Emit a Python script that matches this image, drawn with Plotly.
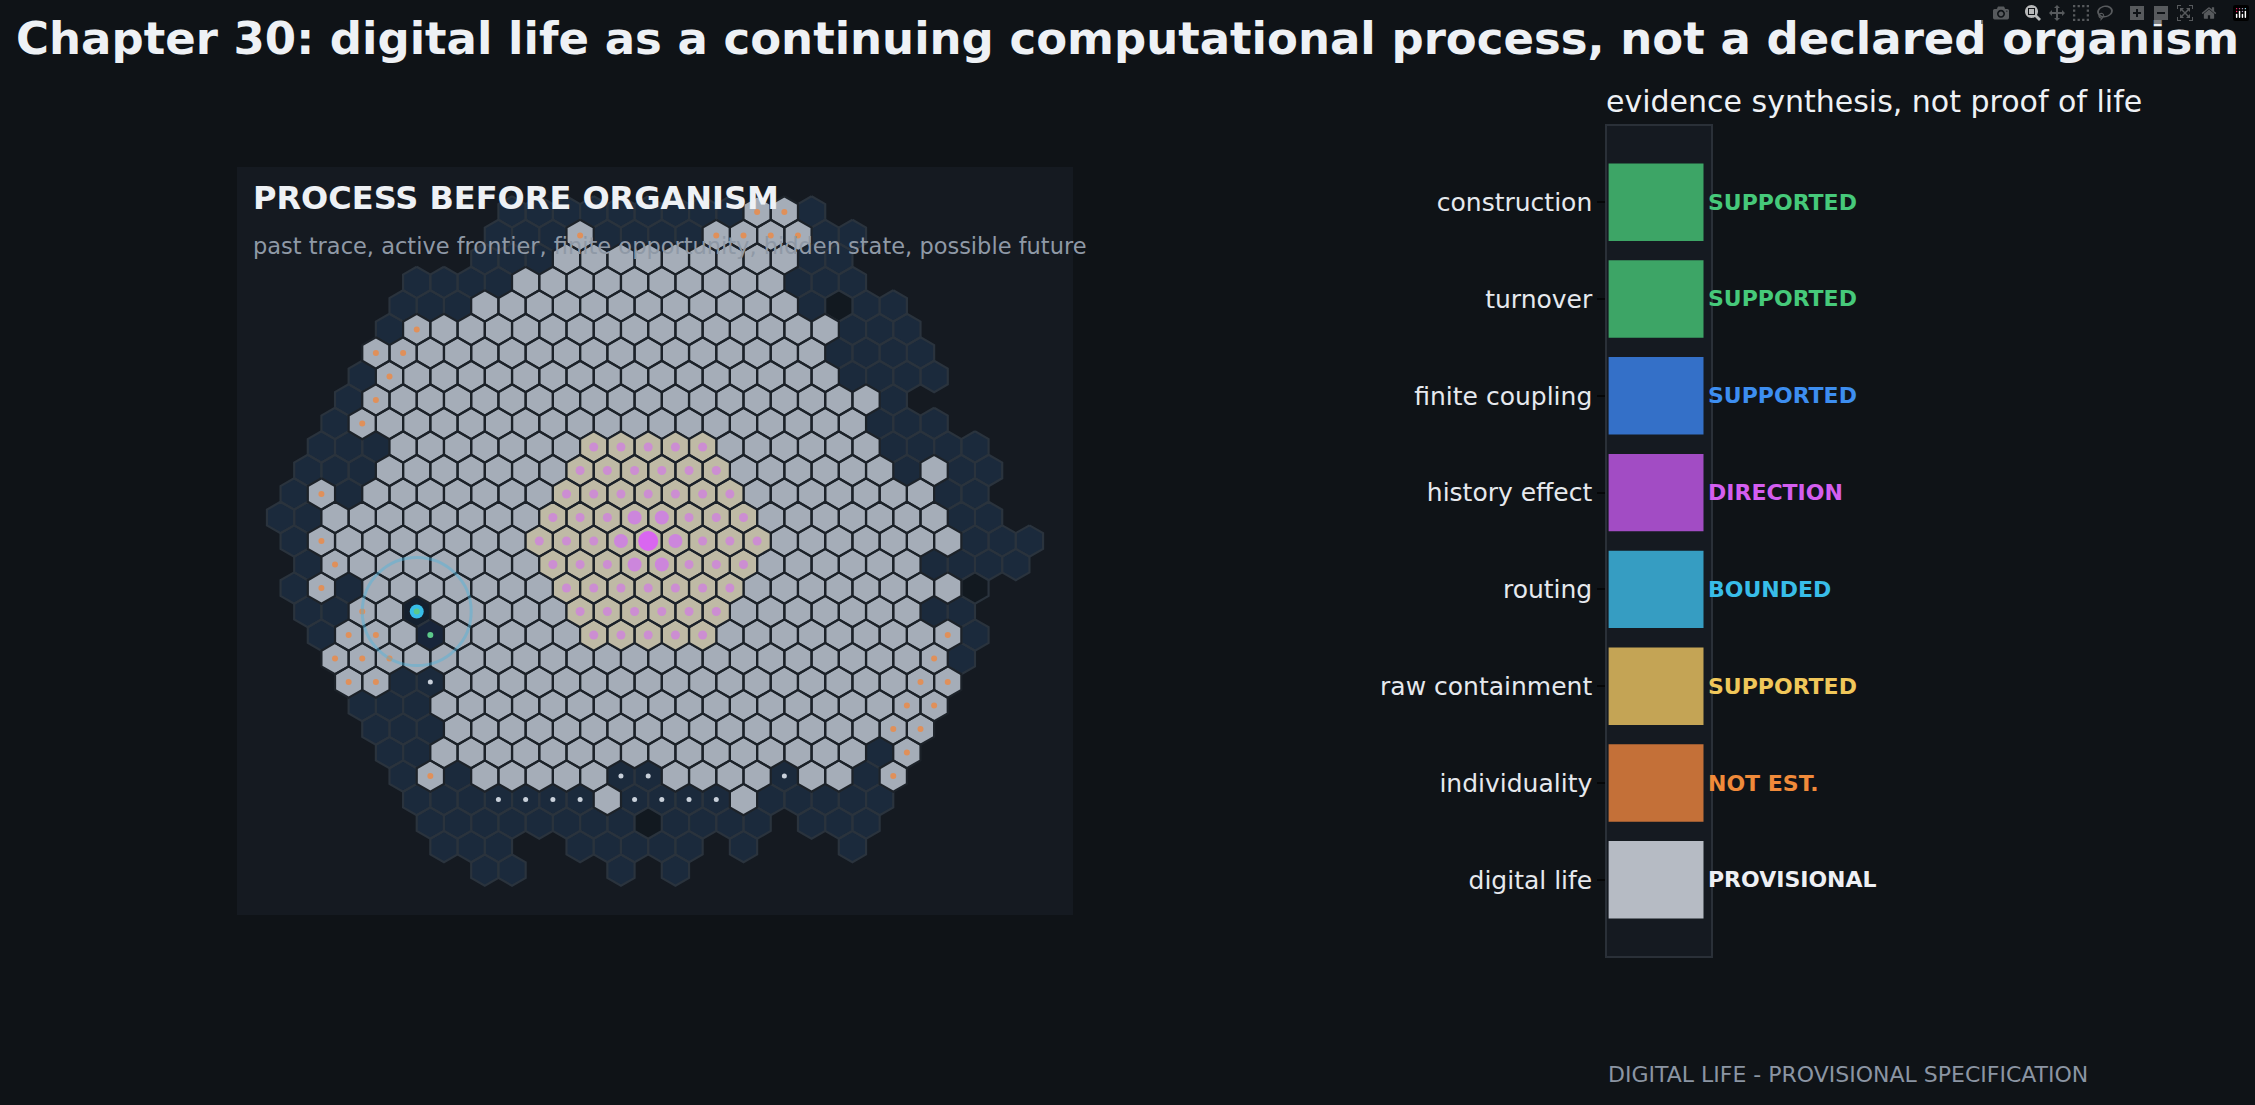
import plotly.graph_objects as go

W, H = 2255, 1105

# hex map rows, top to bottom: (x of first cell, states)
# d dark trace, x hollow, g active, o active+orange, t frontier, m centre,
# n dark+white dot, c cyan node, e dark+green dot, ' ' no cell
hex_starts = [-5, -5.5, -6, -8.5, -9, -9.5, -10, -10.5, -11, -11.5, -12, -12.5, -13, -13.5,
              -13, -12.5, -13, -12.5, -12, -11.5, -11, -10.5, -10, -9.5, -9, -8.5, -8, -7.5, -6]
hex_rows = [
    "dddddddddood",
    "dddoddddoooodd",
    "ddd" + "g" * 9 + "dd",
    "dddd" + "g" * 10 + "ddd",
    "ddd" + "g" * 12 + "dxdd",
    "do" + "g" * 15 + "ddd",
    "oo" + "g" * 15 + "dddd",
    "do" + "g" * 16 + "dddd",
    "do" + "g" * 18 + "d",
    "do" + "g" * 18 + "ddd",
    "ddd" + "g" * 7 + "t" * 5 + "g" * 6 + "dddd",
    "ddd" + "g" * 7 + "t" * 6 + "g" * 6 + "dgdd",
    "dod" + "g" * 7 + "t" * 7 + "g" * 7 + "dd",
    "dd" + "g" * 8 + "t" * 8 + "g" * 7 + "dd",
    "do" + "g" * 7 + "ttttmtttt" + "g" * 7 + "ddd",
    "do" + "g" * 7 + "t" * 8 + "g" * 6 + "dddd",
    "dod" + "g" * 7 + "t" * 7 + "g" * 8 + "x",
    "ddogc" + "g" * 5 + "t" * 6 + "g" * 7 + "dd",
    "doog" + "e" + "g" * 5 + "t" * 5 + "g" * 8 + "od",
    "ooo" + "g" * 19 + "od",
    "oodn" + "g" * 17 + "oo",
    "ddd" + "g" * 17 + "oo",
    "ddd" + "g" * 16 + "oo",
    "dd" + "g" * 16 + "do",
    "dod" + "g" * 5 + "nn" + "g" * 4 + "n" + "gg" + "do",
    "ddd" + "nnnn" + "g" + "nnnn" + "g" + "ddddd",
    "d" * 8 + "x" + "dddd" + " " + "ddd",
    "ddd  ddddd d   d",
    "dd   d d",
]

criteria = ["construction", "turnover", "finite coupling", "history effect",
            "routing", "raw containment", "individuality", "digital life"]
status = ["SUPPORTED", "SUPPORTED", "SUPPORTED", "DIRECTION",
          "BOUNDED", "SUPPORTED", "NOT EST.", "PROVISIONAL"]
bar_len = [1, 1, 1, 1, 1, 1, 1, 1]
bar_colors = ["#3da566", "#3da566", "#3470c8", "#a24cc4", "#369dc2", "#c4a455", "#c47038", "#b6bbc4"]
text_colors = ["#46c97a", "#46c97a", "#3d8ef0", "#d45ef0", "#38bde8", "#f0c75a", "#f08a3a", "#eef0f4"]

FONT = "DejaVu Sans"
BG = "#0f1317"
PANEL = "#151a21"

fill_of = {"d": "#1b2a3c", "n": "#1b2a3c", "e": "#18253a", "c": "#15202e", "x": "#121920",
           "g": "#a5adb8", "o": "#a5adb8", "t": "#bfbaa5", "m": "#bfbaa5"}
edge_of = {"d": "#2a333d", "n": "#2a333d", "e": "#2a333d", "c": "#2a333d", "x": "#2a333d",
           "g": "#1c2229", "o": "#1c2229", "t": "#1c2229", "m": "#1c2229"}

polys = {}
dots = {"orange": ([], []), "white": ([], []), "pink_s": ([], []), "pink_l": ([], []),
        "mag": ([], []), "cyan": ([], []), "green": ([], [])}
R = 2 / 3
hx = [0, 0.5, 0.5, 0, -0.5, -0.5, 0]
hy = [R, R / 2, -R / 2, -R, -R / 2, R / 2, R]
for i, (x0, row) in enumerate(zip(hex_starts, hex_rows)):
    yc = 14 - i
    for j, s in enumerate(row):
        if s == " ":
            continue
        xc = x0 + j
        key = (fill_of[s], edge_of[s])
        px_, py_ = polys.setdefault(key, ([], []))
        px_ += [xc + a for a in hx] + [None]
        py_ += [yc + b for b in hy] + [None]
        if s == "o":
            dots["orange"][0].append(xc); dots["orange"][1].append(yc)
        elif s == "n":
            dots["white"][0].append(xc); dots["white"][1].append(yc)
        elif s == "t":
            k = "pink_l" if (xc ** 2 + (yc * 0.866) ** 2) < 1.2 else "pink_s"
            dots[k][0].append(xc); dots[k][1].append(yc)
        elif s == "m":
            dots["mag"][0].append(xc); dots["mag"][1].append(yc)
        elif s == "c":
            dots["cyan"][0].append(xc); dots["cyan"][1].append(yc)
            dots["green"][0].append(xc); dots["green"][1].append(yc)
        elif s == "e":
            dots["green"][0].append(xc); dots["green"][1].append(yc)

fig = go.Figure()
order = sorted(polys.keys(), key=lambda k: k[1] == "#1c2229")
for fc, ec in order:
    xs, ys = polys[(fc, ec)]
    fig.add_trace(go.Scatter(x=xs, y=ys, mode="lines", fill="toself", fillcolor=fc,
                             line=dict(color=ec, width=2.2), hoverinfo="skip", showlegend=False))

dot_style = {"orange": ("#e0905a", 6), "white": ("#c8d0da", 5), "pink_s": ("#cc8ed2", 9),
             "pink_l": ("#cc86dc", 14), "mag": ("#d966f0", 20), "cyan": ("#38bde8", 14),
             "green": ("#5cc98a", 6)}
for k, (xs, ys) in dots.items():
    c, s = dot_style[k]
    fig.add_trace(go.Scatter(x=xs, y=ys, mode="markers", marker=dict(color=c, size=s, line=dict(width=0)),
                             hoverinfo="skip", showlegend=False))

# routing neighbourhood ring
fig.add_shape(type="circle", xref="x", yref="y", x0=-8.5 - 2, x1=-8.5 + 2, y0=-3 - 2.3, y1=-3 + 2.3,
              line=dict(color="rgba(80,180,220,0.45)", width=3))

fig.add_trace(go.Bar(y=criteria, x=bar_len, orientation="h", marker=dict(color=bar_colors, line=dict(width=0)),
                     width=0.8, xaxis="x2", yaxis="y2", hoverinfo="skip", showlegend=False))

for c, s, tc in zip(criteria, status, text_colors):
    fig.add_annotation(x=1.03, y=c, xref="x2", yref="y2", text="<b>%s</b>" % s, showarrow=False,
                       xanchor="left", yanchor="middle", font=dict(family=FONT, size=22, color=tc))


def px(x):
    return x / W


def py(y):
    return 1 - y / H


fig.add_annotation(x=0.5, y=py(39), xref="paper", yref="paper",
                   text="<b>Chapter 30: digital life as a continuing computational process, not a declared organism</b>",
                   showarrow=False, xanchor="center", yanchor="middle", font=dict(family=FONT, size=45, color="#eef1f5"))
fig.add_annotation(x=px(1604), y=py(101), xref="paper", yref="paper", text="evidence synthesis, not proof of life",
                   showarrow=False, xanchor="left", yanchor="middle", font=dict(family=FONT, size=30, color="#eef1f5"))
fig.add_annotation(x=px(1606), y=py(1074), xref="paper", yref="paper", text="DIGITAL LIFE - PROVISIONAL SPECIFICATION",
                   showarrow=False, xanchor="left", yanchor="middle", font=dict(family=FONT, size=22, color="#8b95a3"))
fig.add_annotation(x=px(251), y=py(198), xref="paper", yref="paper", text="<b>PROCESS BEFORE ORGANISM</b>",
                   showarrow=False, xanchor="left", yanchor="middle", font=dict(family=FONT, size=32, color="#eef1f5"))
fig.add_annotation(x=px(251), y=py(246), xref="paper", yref="paper",
                   text="past trace, active frontier, finite opportunity, hidden state, possible future",
                   showarrow=False, xanchor="left", yanchor="middle", font=dict(family=FONT, size=22.5, color="#8f99a6"))

fig.update_layout(
    width=W, height=H, margin=dict(l=0, r=0, t=0, b=0),
    paper_bgcolor=BG, plot_bgcolor=PANEL, font=dict(family=FONT),
    xaxis=dict(domain=[px(237), px(1073)], range=[-15.1, 15.6], visible=False, fixedrange=True),
    yaxis=dict(domain=[py(915), py(167)], range=[-15.91, 15.91], visible=False, fixedrange=True),
    xaxis2=dict(domain=[px(1607), px(1711)], range=[-0.017, 1.079], anchor="y2", showticklabels=False,
                showgrid=False, zeroline=False, showline=True, mirror=True, linecolor="#2a3038", linewidth=1.5),
    yaxis2=dict(domain=[py(956), py(126)], range=[7.787, -0.787], anchor="x2", showgrid=False,
                showline=True, mirror=True, linecolor="#2a3038", linewidth=1.5,
                ticks="outside", ticklen=8, tickcolor="#050607", tickwidth=2,
                tickfont=dict(family=FONT, size=25, color="#e6e9ee")),
)

fig.write_html("out.html", post_script="document.body.style.margin='0';")
